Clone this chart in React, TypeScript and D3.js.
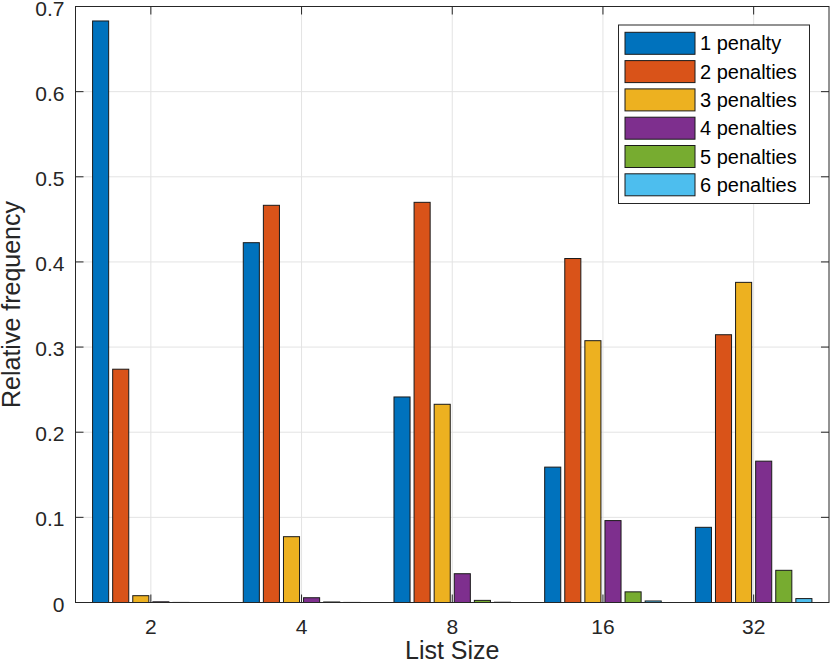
import React from "react";
import * as d3 from "d3";

const categories = ["2", "4", "8", "16", "32"];
const seriesNames = ["1 penalty", "2 penalties", "3 penalties", "4 penalties", "5 penalties", "6 penalties"];
const seriesColors = ["#0072BD", "#D95319", "#EDB120", "#7E2F8E", "#77AC30", "#4DBEEE"];
const p1 = [0.683, 0.4226, 0.2414, 0.159, 0.0883];
const p2 = [0.274, 0.4665, 0.470, 0.404, 0.3145];
const p3 = [0.008, 0.0773, 0.2328, 0.3075, 0.376];
const p4 = [0.0008, 0.0056, 0.0338, 0.0962, 0.166];
const p5 = [0.0001, 0.0006, 0.0025, 0.0125, 0.0378];
const p6 = [0.0, 0.0001, 0.0003, 0.0018, 0.0046];
const series = [p1, p2, p3, p4, p5, p6];
const yTicks = [0, 0.1, 0.2, 0.3, 0.4, 0.5, 0.6, 0.7];

const W = 830, H = 671;
const L = 75.5, R = 829, T = 6.5, B = 602.5;
const FONT = "'Liberation Sans', Arial, Helvetica, sans-serif";
const TXT = "#262626";

export default function App() {
  const x = d3.scaleLinear().domain([0.5, 5.5]).range([L, R]);
  const y = d3.scaleLinear().domain([0, 0.7]).range([B, T]);
  const n = series.length;
  const groupW = 0.8;
  const pitch = groupW / n;
  const barW = pitch * 0.8;
  const tickLen = 8;
  const unit = x(1) - x(0);

  return (
    <svg width={W} height={H} style={{ position: "absolute", left: 0, top: 0 }} fontFamily={FONT}>
      <rect x={0} y={0} width={W} height={H} fill="#fff" />
      {categories.map((c, i) => (
        <line key={"gx" + c} x1={x(i + 1)} x2={x(i + 1)} y1={T} y2={B} stroke="#e3e3e3" strokeWidth={1} />
      ))}
      {yTicks.map((t) => (
        <line key={"gy" + t} x1={L} x2={R} y1={y(t)} y2={y(t)} stroke="#e3e3e3" strokeWidth={1} />
      ))}
      {series.map((s, si) =>
        s.map((v, ci) => {
          const cx = x(ci + 1) + (si - (n - 1) / 2) * pitch * unit;
          const bw = barW * unit;
          return (
            <rect
              key={si + "-" + ci}
              x={cx - bw / 2}
              y={y(v)}
              width={bw}
              height={Math.max(0, y(0) - y(v))}
              fill={seriesColors[si]}
              stroke="#1a1a1a"
              strokeWidth={1}
            />
          );
        })
      )}
      <rect x={L} y={T} width={R - L} height={B - T} fill="none" stroke={TXT} strokeWidth={1} />
      {categories.map((c, i) => (
        <g key={"tx" + c}>
          <line x1={x(i + 1)} x2={x(i + 1)} y1={B} y2={B - tickLen} stroke={TXT} />
          <line x1={x(i + 1)} x2={x(i + 1)} y1={T} y2={T + tickLen} stroke={TXT} />
          <text x={x(i + 1)} y={634} textAnchor="middle" fontSize={21} fill={TXT}>{c}</text>
        </g>
      ))}
      {yTicks.map((t) => (
        <g key={"ty" + t}>
          <line x1={L} x2={L + tickLen} y1={y(t)} y2={y(t)} stroke={TXT} />
          <line x1={R} x2={R - tickLen} y1={y(t)} y2={y(t)} stroke={TXT} />
          <text x={64.5} y={y(t) + 9} textAnchor="end" fontSize={21} fill={TXT}>{t === 0 ? "0" : d3.format(".1f")(t)}</text>
        </g>
      ))}
      <text x={(L + R) / 2} y={659} textAnchor="middle" fontSize={25} fill={TXT}>List Size</text>
      <text transform={`translate(20,${(T + B) / 2}) rotate(-90)`} textAnchor="middle" fontSize={25} fill={TXT}>Relative frequency</text>
      <rect x={618.5} y={25} width={191} height={178.5} fill="#fff" stroke={TXT} strokeWidth={1} />
      {seriesNames.map((name, i) => {
        const cy = 43.3 + i * 28.3;
        return (
          <g key={name}>
            <rect x={625} y={cy - 11} width={70} height={22} fill={seriesColors[i]} stroke="#1a1a1a" strokeWidth={1} />
            <text x={700} y={cy + 7} fontSize={20} fill="#000">{name}</text>
          </g>
        );
      })}
    </svg>
  );
}
